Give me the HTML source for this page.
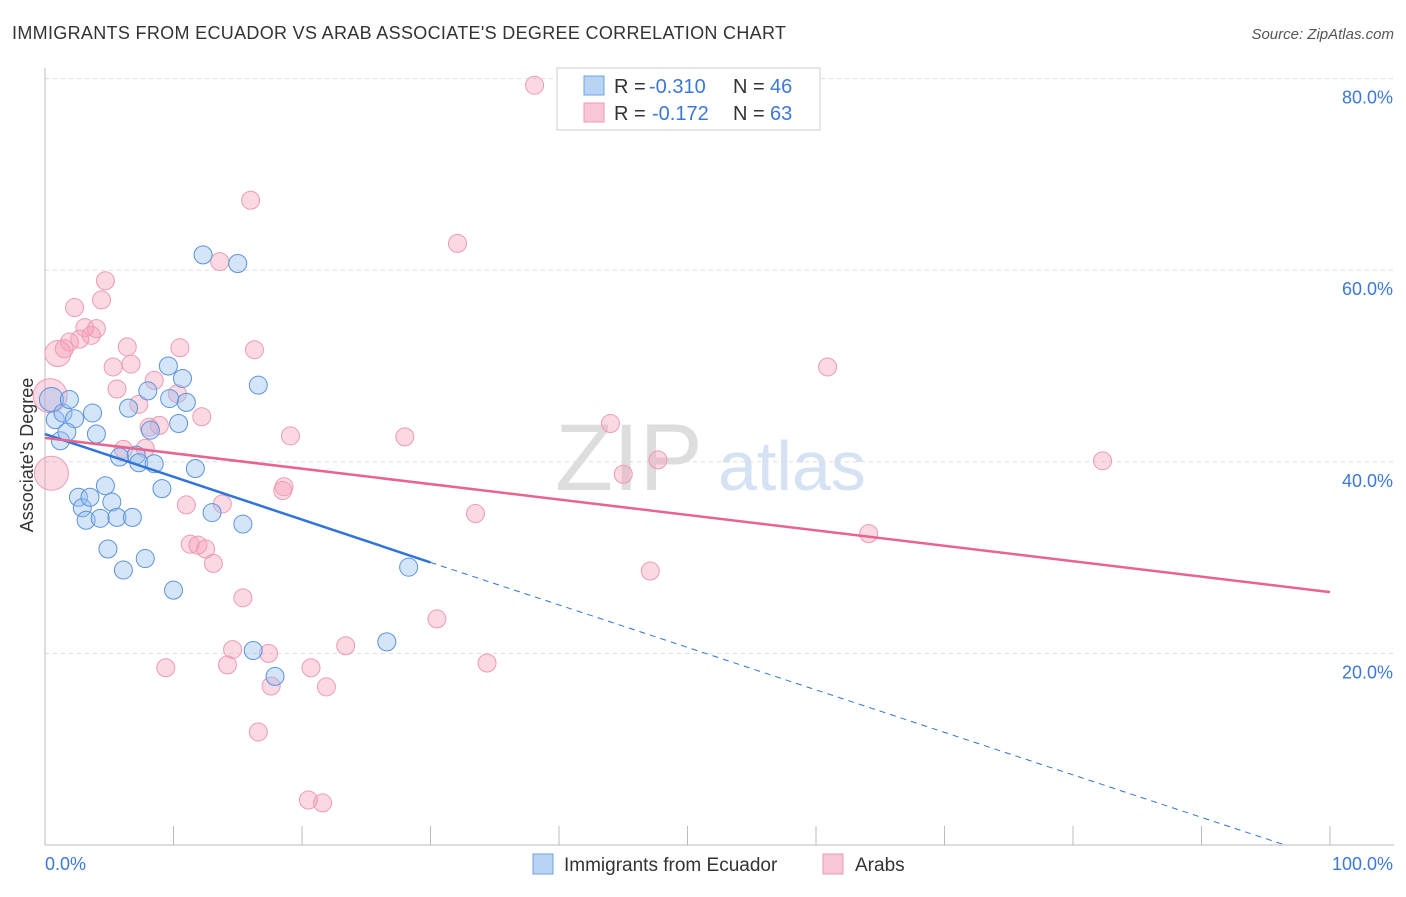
<!DOCTYPE html>
<html><head><meta charset="utf-8">
<style>
body{margin:0;background:#fff;font-family:"Liberation Sans",sans-serif;}
svg text{font-family:"Liberation Sans",sans-serif;}
</style></head>
<body>
<svg id="chart" width="1406" height="892">
<text x="12" y="39" font-size="18" fill="#333" textLength="774">IMMIGRANTS FROM ECUADOR VS ARAB ASSOCIATE'S DEGREE CORRELATION CHART</text>
<text x="1394" y="39" font-size="15" fill="#555" font-style="italic" text-anchor="end">Source: ZipAtlas.com</text>
<text x="33" y="455" font-size="18" fill="#333" text-anchor="middle" transform="rotate(-90 33 455)">Associate's Degree</text>
<text x="555" y="490" font-size="95" fill="#ddd" font-family="Liberation Serif">ZIP</text>
<text x="718" y="490" font-size="70" fill="#d4e2f4">atlas</text>
<g id="grid"></g><g id="pts"></g><g id="lines"></g>
<g>
<rect x="557" y="68" width="263" height="62" fill="#fff" stroke="#ccc"/>
<rect x="584" y="76" width="20" height="19" fill="#b9d3f5" stroke="#6ea0e0"/>
<rect x="584" y="103" width="20" height="19" fill="#f9c6d5" stroke="#ee9ab4"/>
<text x="614" y="93" font-size="20" fill="#333">R =</text>
<text x="649" y="93" font-size="20" fill="#3b78d8">-0.310</text>
<text x="733" y="93" font-size="20" fill="#333">N =</text>
<text x="770" y="93" font-size="20" fill="#3b78d8">46</text>
<text x="614" y="120" font-size="20" fill="#333">R =</text>
<text x="652" y="120" font-size="20" fill="#3b78d8">-0.172</text>
<text x="733" y="120" font-size="20" fill="#333">N =</text>
<text x="770" y="120" font-size="20" fill="#3b78d8">63</text>
</g>
<g>
<rect x="533" y="854" width="20" height="20" fill="#b9d3f5" stroke="#6ea0e0"/>
<text x="564" y="871" font-size="19" fill="#333">Immigrants from Ecuador</text>
<rect x="823" y="854" width="20" height="20" fill="#f9c6d5" stroke="#ee9ab4"/>
<text x="855" y="871" font-size="19" fill="#333">Arabs</text>
</g>
</svg>
<script>
const yTicks=[20,40,60,80];
const xTickLabels=["0.0%","100.0%"];
const blueX=[0.5,0.8,1.4,1.9,2.3,1.2,1.7,3.7,4.0,2.6,2.9,3.2,3.5,4.3,4.7,5.2,5.6,6.8,4.9,6.1,7.8,10.0,5.8,6.5,7.1,7.3,8.0,8.2,8.5,9.1,9.6,9.7,10.7,11.0,10.4,11.7,13.0,12.3,15.0,15.4,16.6,16.2,17.9,26.6,28.3];
const blueY=[46.5,44.4,45.1,46.5,44.5,42.2,43.1,45.1,42.9,36.3,35.2,33.9,36.3,34.1,37.5,35.8,34.2,34.2,30.9,28.7,29.9,26.6,40.5,45.6,40.7,39.9,47.4,43.3,39.8,37.2,50.0,46.6,48.7,46.2,44.0,39.3,34.7,61.6,60.7,33.5,48.0,20.3,17.6,21.2,29.0];
const blueR=[12,9,9,9,9,9,9,9,9,9,9,9,9,9,9,9,9,9,9,9,9,9,9,9,9,9,9,9,9,9,9,9,9,9,9,9,9,9,9,9,9,9,9,9,9];
const pinkX=[38.1,16.0,32.1,13.6,4.7,4.4,2.3,3.1,4.0,3.6,2.7,1.9,1.5,1.0,0.4,0.5,6.4,10.5,16.3,5.3,6.7,8.5,5.6,7.3,10.3,12.2,8.1,8.9,6.1,7.8,19.1,28.0,44.0,47.7,45.0,60.9,82.3,11.0,13.8,18.6,18.5,33.5,64.1,11.3,11.9,13.1,12.5,47.1,15.4,30.5,14.6,23.4,17.4,9.4,14.2,20.7,34.4,17.6,21.9,16.6,20.5,21.6];
const pinkY=[79.3,67.3,62.8,60.9,58.9,56.9,56.1,54.0,53.9,53.2,52.8,52.5,51.8,51.3,46.9,38.8,52.0,51.9,51.7,49.9,50.2,48.5,47.6,46.0,47.1,44.7,43.6,43.8,41.3,41.4,42.7,42.6,44.0,40.2,38.7,49.9,40.1,35.5,35.6,37.4,37.0,34.6,32.5,31.4,31.3,29.4,30.9,28.6,25.8,23.6,20.4,20.8,20.0,18.5,18.8,18.5,19.0,16.6,16.5,11.8,4.7,4.4];
const pinkR=[9,9,9,9,9,9,9,9,9,9,9,9,9,13,17,17,9,9,9,9,9,9,9,9,9,9,9,9,9,9,9,9,9,9,9,9,9,9,9,9,9,9,9,9,9,9,9,9,9,9,9,9,9,9,9,9,9,9,9,9,9,9];
const blueLine=[0,42.9,30,29.5,96.5,0];
const pinkLine=[0,42.5,100,26.4];
const X=v=>45+v*12.85, Y=v=>845-v*9.58;
const NS="http://www.w3.org/2000/svg";
function mk(t,a,p){const e=document.createElementNS(NS,t);for(const k in a)e.setAttribute(k,a[k]);p.appendChild(e);return e;}
const g=document.getElementById('grid');
yTicks.forEach(t=>{
 const l=mk('line',{x1:45,x2:1394,y1:Y(t),y2:Y(t),stroke:'#ddd','stroke-dasharray':'4,4'},g);
 
 
 const tx=mk('text',{x:1393,y:Y(t)+25,'font-size':18,fill:'#3b78d8','text-anchor':'end'},g);
 tx.textContent=t.toFixed(1)+'%';
 
 
});
const ax=mk('line',{x1:45,x2:45,y1:68,y2:845,stroke:'#bbb'},g);


const bx=mk('line',{x1:45,x2:1394,y1:845,y2:845,stroke:'#bbb'},g);


for(let i=0;i<=10;i++){const tk=mk('line',{x1:X(i*10),x2:X(i*10),y1:826,y2:845,stroke:'#bbb'},g);
 
 }
const xl0=mk('text',{x:45,y:870,'font-size':18,fill:'#3b78d8'},g);xl0.textContent=xTickLabels[0];


const xl1=mk('text',{x:1393,y:870,'font-size':18,fill:'#3b78d8','text-anchor':'end'},g);xl1.textContent=xTickLabels[1];


const p=document.getElementById('pts');
pinkX.forEach((v,i)=>{const c=mk('circle',{cx:X(v),cy:Y(pinkY[i]),r:pinkR[i],fill:'rgba(244,160,185,0.4)',stroke:'#ee9ab4','stroke-width':1},p);
 
 });
blueX.forEach((v,i)=>{const c=mk('circle',{cx:X(v),cy:Y(blueY[i]),r:blueR[i],fill:'rgba(150,190,240,0.4)',stroke:'#5b93dd','stroke-width':1},p);
 
 });
const L=document.getElementById('lines');
const b1=mk('line',{x1:X(blueLine[0]),y1:Y(blueLine[1]),x2:X(blueLine[2]),y2:Y(blueLine[3]),stroke:'#2f74d8','stroke-width':2.5},L);


const b2=mk('line',{x1:X(blueLine[2]),y1:Y(blueLine[3]),x2:X(blueLine[4]),y2:Y(blueLine[5]),stroke:'#2f74d8','stroke-width':1,'stroke-dasharray':'6,5'},L);


const pl=mk('line',{x1:X(pinkLine[0]),y1:Y(pinkLine[1]),x2:X(pinkLine[2]),y2:Y(pinkLine[3]),stroke:'#e8648f','stroke-width':2.5},L);


</script>
</body></html>
